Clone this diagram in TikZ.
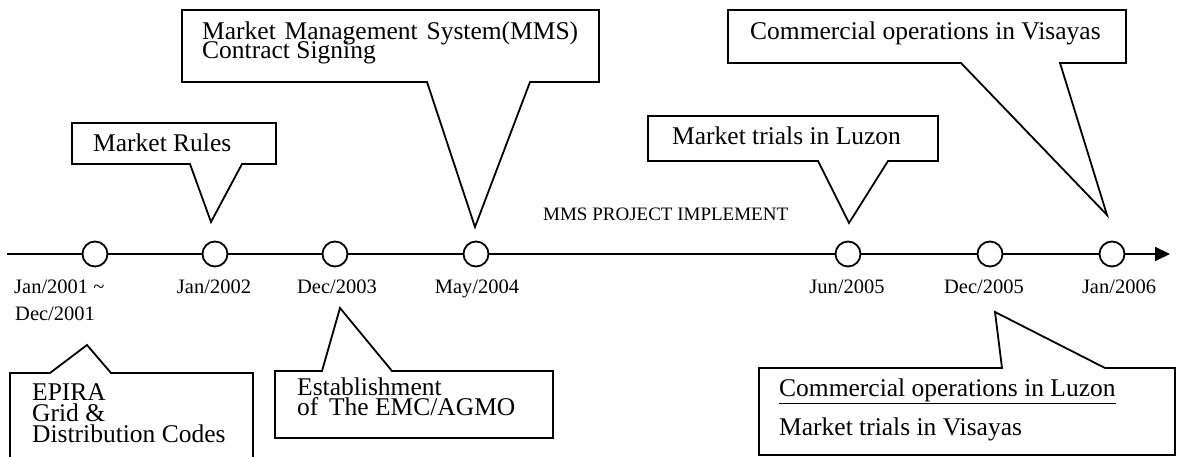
\documentclass[tikz,border=0pt]{standalone}
\usepackage{fontspec}
\setmainfont{Liberation Serif}
\usetikzlibrary{arrows.meta}
\begin{document}
\begin{tikzpicture}[x=1pt,y=-1pt,
  outline/.style={draw=black, fill=white, line width=1.8pt, line join=miter},
  bigtext/.style={font=\fontsize{25.5}{25.5}\selectfont, inner sep=0pt, anchor=base west},
  datetext/.style={font=\fontsize{20.5}{20.5}\selectfont, inner sep=0pt, anchor=base},
  event/.style={circle, draw=black, fill=white, line width=1.8pt, minimum size=25pt, inner sep=0pt}]
\useasboundingbox (0,0) rectangle (1180,457);
\clip (0,0) rectangle (1180,457);

% timeline
\coordinate (tstart) at (7,254);
\coordinate (tend) at (1170,254);
\draw[line width=1.8pt, -{Triangle[length=15pt,width=14pt]}] (tstart) -- (tend);
\node[event] (e1) at (95,254) {};
\node[event] (e2) at (215,254) {};
\node[event] (e3) at (335,254) {};
\node[event] (e4) at (476,254) {};
\node[event] (e5) at (848,254) {};
\node[event] (e6) at (990,254) {};
\node[event] (e7) at (1112,254) {};

% dates
\node[datetext, anchor=base west] (d1a) at (14,293) {Jan/2001 \textasciitilde};
\node[datetext, anchor=base west] (d1b) at (15,320) {Dec/2001};
\node[datetext] (d2) at (214,293) {Jan/2002};
\node[datetext] (d3) at (337,293) {Dec/2003};
\node[datetext] (d4) at (477,293) {May/2004};
\node[datetext] (d5) at (847,293) {Jun/2005};
\node[datetext] (d6) at (984,293) {Dec/2005};
\node[datetext] (d7) at (1119,293) {Jan/2006};

\node[font=\fontsize{19}{19}\selectfont, inner sep=0pt, anchor=base west] (proj) at (543,220) {MMS PROJECT IMPLEMENT};

% Market Rules
\coordinate (p2) at (211,222);
\draw[outline] (72,123) -- (276,123) -- (276,164) -- (242,164) -- (p2) -- (190,164) -- (72,164) -- cycle;
\node[bigtext] (t2) at (93,152) {Market Rules};

% MMS contract
\coordinate (p4) at (475,227);
\draw[outline] (182,10) -- (599,10) -- (599,82) -- (530,82) -- (p4) -- (427,82) -- (182,82) -- cycle;
\node[bigtext] (t4a) at (202,40) {\hbox to 376pt{Market\hfill Management\hfill System(MMS)}};
\node[bigtext] (t4b) at (202,59) {Contract Signing};

% Market trials in Luzon
\coordinate (p5) at (849,223);
\draw[outline] (648,116) -- (938,116) -- (938,161) -- (888,161) -- (p5) -- (818,161) -- (648,161) -- cycle;
\node[bigtext] (t5) at (672,145) {Market trials in Luzon};

% Commercial operations in Visayas
\coordinate (p7) at (1107,215);
\draw[outline] (728,10) -- (1126,10) -- (1126,63) -- (1060,63) -- (p7) -- (961,63) -- (728,63) -- cycle;
\node[bigtext] (t7) at (750,40) {Commercial operations in Visayas};

% EPIRA
\coordinate (p1) at (87,345);
\draw[outline] (10,373) -- (50,373) -- (p1) -- (111,373) -- (253,373) -- (253,470) -- (10,470) -- cycle;
\node[bigtext] (t1a) at (32,400) {EPIRA};
\node[bigtext] (t1b) at (32,421) {Grid \&};
\node[bigtext] (t1c) at (32,442) {Distribution Codes};

% Establishment
\coordinate (p3) at (340,308);
\draw[outline] (275,371) -- (322,371) -- (p3) -- (392,371) -- (553,371) -- (553,438) -- (275,438) -- cycle;
\node[bigtext] (t3a) at (297,395) {Establishment};
\node[bigtext] (t3b) at (297,415) {of\, The EMC/AGMO};

% Commercial operations in Luzon / Market trials in Visayas
\coordinate (p6) at (995,312);
\draw[outline] (759,368) -- (1002,368) -- (p6) -- (1105,368) -- (1175,368) -- (1175,455) -- (759,455) -- cycle;
\node[bigtext] (t6a) at (779,396) {\underline{Commercial operations in Luzon}};
\node[bigtext] (t6b) at (779,435) {Market trials in Visayas};
\end{tikzpicture}
\end{document}
